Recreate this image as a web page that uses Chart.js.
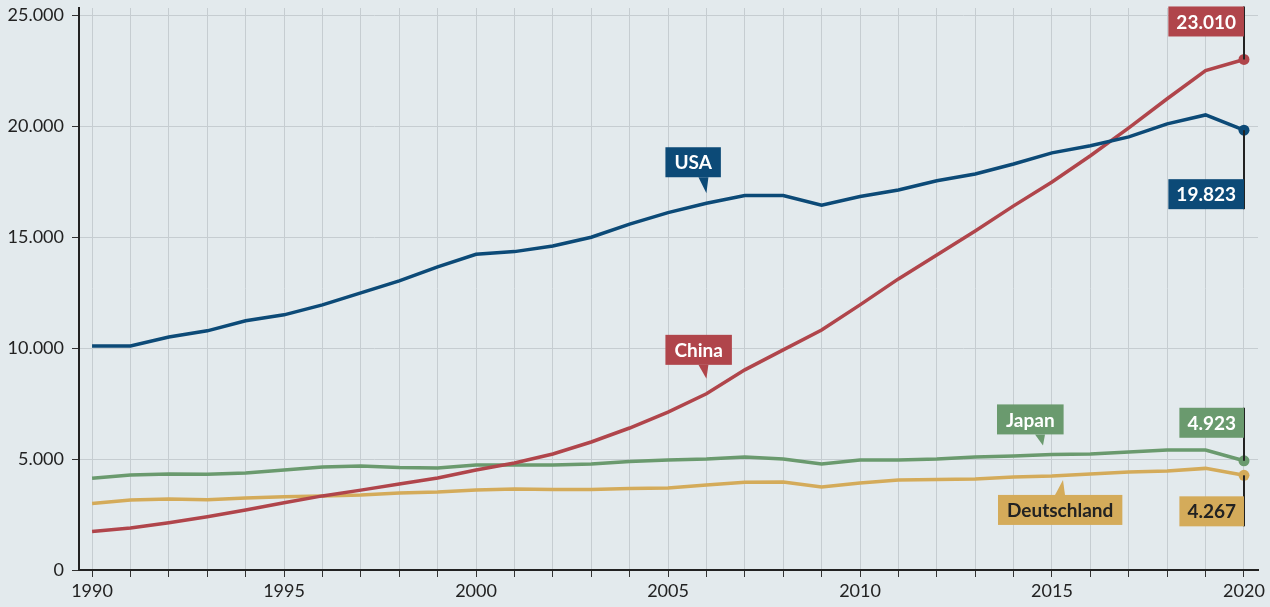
<!DOCTYPE html>
<html>
<head>
<meta charset="utf-8">
<script src="https://cdn.jsdelivr.net/npm/chart.js@4"></script>
<style>
  html, body { margin: 0; padding: 0; background: #e3eaed; }
  #wrap { width: 1270px; height: 607px; }
</style>
</head>
<body>
<div id="wrap"><canvas id="chart" width="1270" height="607"></canvas></div>
<script>
const years = [];
for (let y = 1990; y <= 2020; y++) years.push(y);

const usa = [10100, 10100, 10500, 10780, 11230, 11500, 11950, 12490, 13030, 13660,
  14230, 14350, 14600, 15000, 15590, 16110, 16530, 16880, 16880, 16440,
  16830, 17130, 17540, 17850, 18300, 18800, 19120, 19520, 20110, 20510, 19823];
const china = [1730, 1890, 2130, 2400, 2700, 3030, 3340, 3600, 3880, 4150,
  4510, 4820, 5230, 5770, 6400, 7120, 7940, 9020, 9920, 10820,
  11950, 13120, 14200, 15280, 16410, 17490, 18670, 19930, 21240, 22510, 23010];
const japan = [4130, 4280, 4330, 4310, 4370, 4510, 4640, 4690, 4620, 4600,
  4730, 4730, 4730, 4780, 4890, 4960, 5000, 5090, 5000, 4780,
  4960, 4960, 5000, 5090, 5140, 5210, 5230, 5320, 5410, 5410, 4923];
const deutschland = [3000, 3160, 3200, 3170, 3250, 3300, 3340, 3380, 3470, 3520,
  3610, 3650, 3630, 3630, 3670, 3700, 3830, 3950, 3970, 3740,
  3920, 4060, 4080, 4100, 4190, 4240, 4330, 4420, 4460, 4580, 4267];

const seriesNames = ['USA', 'China', 'Japan', 'Deutschland'];
const yTicks = [0, 5000, 10000, 15000, 20000, 25000];
const xLabelYears = [1990, 1995, 2000, 2005, 2010, 2015, 2020];

const colors = ['#0c4a77', '#b0454b', '#6a9a6e', '#d4ab5a'];
const textColors = ['#fff', '#fff', '#fff', '#222'];

function fmt(v) {
  return String(v).replace(/\B(?=(\d{3})+(?!\d))/g, '.');
}

function makeSet(i, values) {
  const last = values.length - 1;
  return {
    label: seriesNames[i],
    data: values.map((v, k) => ({ x: years[k], y: v })),
    borderColor: colors[i],
    backgroundColor: colors[i],
    borderWidth: 3.5,
    tension: 0,
    pointRadius: ctx => ctx.dataIndex === last ? 5.5 : 0,
    pointBorderWidth: 0,
    pointHoverRadius: 0
  };
}

// callouts: tip relative to the line point, box relative to the tip
const callouts = [
  { ds: 0, idx: 16, tipDy: -10, gap: 16, boxDx: -41, dir: 'up' },
  { ds: 1, idx: 16, tipDy: -15, gap: 14, boxDx: -41, dir: 'up' },
  { ds: 2, idx: 25, tipDx: -9, tipDy: -9, gap: 11, boxDx: -46, dir: 'up' },
  { ds: 3, idx: 25, tipDx: 11, tipDy: 4, gap: 15, boxDx: -65, dir: 'down' }
];
// end value labels: box edge offset from the last point
const endLabels = [
  { ds: 1, dy: -53, dir: 'up' },
  { ds: 0, dy: 79, dir: 'down' },
  { ds: 2, dy: -53, dir: 'up' },
  { ds: 3, dy: 51, dir: 'down' }
];

const labelPlugin = {
  id: 'labels',
  afterDatasetsDraw(chart) {
    const ctx = chart.ctx;
    const xs = chart.scales.x, ys = chart.scales.y;
    const h = 30, pad = 9;
    ctx.save();
    ctx.font = 'bold 19px Lato';
    ctx.textBaseline = 'middle';
    ctx.textAlign = 'left';

    callouts.forEach(c => {
      const vals = chart.data.datasets[c.ds].data;
      const px = xs.getPixelForValue(vals[c.idx].x);
      const py = ys.getPixelForValue(vals[c.idx].y);
      const tx = px + (c.tipDx || 0), ty = py + c.tipDy;
      const text = seriesNames[c.ds];
      const w = ctx.measureText(text).width + pad * 2;
      const left = tx + c.boxDx;
      let top, edge;
      if (c.dir === 'up') { edge = ty - c.gap; top = edge - h; }
      else { edge = ty + c.gap; top = edge; }
      ctx.fillStyle = colors[c.ds];
      ctx.beginPath();
      ctx.moveTo(tx - 8, edge);
      ctx.lineTo(tx + 2, edge);
      ctx.lineTo(tx, ty);
      ctx.closePath();
      ctx.fill();
      ctx.fillRect(left, top, w, h);
      ctx.fillStyle = textColors[c.ds];
      ctx.fillText(text, left + pad, top + h / 2 + 1);
    });

    endLabels.forEach(e => {
      const vals = chart.data.datasets[e.ds].data;
      const p = vals[vals.length - 1];
      const px = xs.getPixelForValue(p.x);
      const py = ys.getPixelForValue(p.y);
      const text = fmt(p.y);
      const w = ctx.measureText(text).width + 16;
      let top, far;
      if (e.dir === 'up') { top = py + e.dy; far = top; }
      else { top = py + e.dy - h; far = py + e.dy; }
      ctx.strokeStyle = '#222';
      ctx.lineWidth = 2;
      ctx.beginPath();
      ctx.moveTo(px, far);
      ctx.lineTo(px, py);
      ctx.stroke();
      ctx.fillStyle = colors[e.ds];
      ctx.fillRect(px - w, top, w, h);
      ctx.fillStyle = textColors[e.ds];
      ctx.fillText(text, px - w + 8, top + h / 2 + 1);
    });
    ctx.restore();
  }
};

new Chart(document.getElementById('chart'), {
  type: 'line',
  data: {
    datasets: [makeSet(0, usa), makeSet(1, china), makeSet(2, japan), makeSet(3, deutschland)]
  },
  options: {
    responsive: false,
    animation: false,
    layout: { padding: { top: 8, right: 12, left: 0, bottom: 0 } },
    plugins: { legend: { display: false }, tooltip: { enabled: false } },
    scales: {
      x: {
        type: 'linear',
        min: 1989.66,
        max: 2020.365,
        afterBuildTicks: s => { s.ticks = years.map(v => ({ value: v })); },
        afterFit: s => { s.height = 37; },
        grid: { color: '#c6cdd1', lineWidth: 1, tickLength: 7, tickColor: '#333' },
        border: { color: '#222', width: 2 },
        ticks: {
          autoSkip: false,
          maxRotation: 0,
          padding: 3,
          color: '#222',
          font: { family: 'Lato', size: 18 },
          callback: v => xLabelYears.includes(v) ? String(v) : ''
        }
      },
      y: {
        min: 0,
        max: 25330,
        afterBuildTicks: s => { s.ticks = yTicks.map(v => ({ value: v })); },
        afterFit: s => { s.width = 79; s.paddingTop = 0; s.paddingBottom = 0; },
        grid: { color: '#c6cdd1', lineWidth: 1, tickLength: 7, tickColor: '#333' },
        border: { color: '#222', width: 2 },
        ticks: {
          padding: 8,
          color: '#222',
          font: { family: 'Lato', size: 18 },
          callback: v => fmt(v)
        }
      }
    }
  },
  plugins: [labelPlugin]
});
</script>
</body>
</html>
